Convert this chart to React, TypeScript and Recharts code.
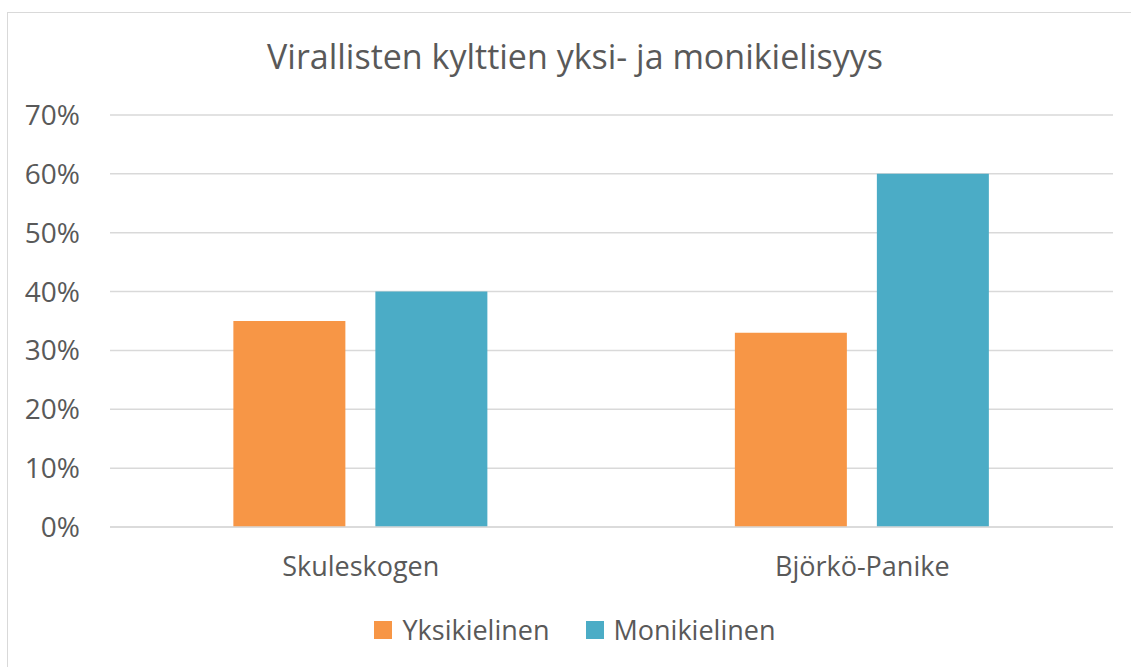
import { BarChart, Bar, XAxis, YAxis, CartesianGrid } from "recharts";

const categories = ["Skuleskogen", "Björkö-Panike"];
const yksikielinen = [35, 33];
const monikielinen = [40, 60];
const yTicks = [0, 10, 20, 30, 40, 50, 60, 70];

const series = [
  { key: "yksikielinen", name: "Yksikielinen", color: "#F79646" },
  { key: "monikielinen", name: "Monikielinen", color: "#4BACC6" },
];

const data = categories.map((name, i) => ({
  name,
  yksikielinen: yksikielinen[i],
  monikielinen: monikielinen[i],
}));

const FONT = "'Open Sans', sans-serif";
const TEXT = "#595959";

export default function App() {
  return (
    <div
      style={{
        position: "absolute",
        left: 0,
        top: 0,
        width: 1131,
        height: 667,
        overflow: "hidden",
        background: "#fff",
        fontFamily: FONT,
      }}
    >
      <div
        style={{
          position: "absolute",
          left: 7,
          top: 12,
          width: 1136,
          height: 700,
          border: "1.5px solid #d9d9d9",
          boxSizing: "border-box",
        }}
      />
      <div
        style={{
          position: "absolute",
          left: 7,
          width: 1136,
          top: 39,
          fontSize: 34,
          lineHeight: "34px",
          textAlign: "center",
          color: TEXT,
        }}
      >
        Virallisten kylttien yksi- ja monikielisyys
      </div>
      <div style={{ position: "absolute", left: 0, top: 0 }}>
        <BarChart
          width={1131}
          height={667}
          data={data}
          margin={{ top: 115, right: 18, bottom: 0, left: 20 }}
          barGap={30}
          barCategoryGap="24.6%"
        >
          <CartesianGrid vertical={false} stroke="#d9d9d9" strokeWidth={1.5} />
          <XAxis
            dataKey="name"
            axisLine={{ stroke: "#d9d9d9", strokeWidth: 1.5 }}
            tickLine={false}
            tickSize={0}
            tickMargin={30}
            height={140}
            tick={{ fill: TEXT, fontSize: 27, fontFamily: FONT }}
          />
          <YAxis
            width={90}
            domain={[0, 70]}
            ticks={yTicks}
            axisLine={false}
            tickLine={false}
            tickSize={0}
            tickMargin={30}
            tickFormatter={(v) => `${v}%`}
            tick={{ fill: TEXT, fontSize: 28, fontFamily: FONT }}
          />
          {series.map((s) => (
            <Bar
              key={s.key}
              dataKey={s.key}
              name={s.name}
              fill={s.color}
              isAnimationActive={false}
            />
          ))}
        </BarChart>
      </div>
      <div
        style={{
          position: "absolute",
          left: 7,
          width: 1136,
          top: 613,
          display: "flex",
          justifyContent: "center",
          gap: 36,
          fontSize: 27,
          lineHeight: "34px",
          color: TEXT,
        }}
      >
        {series.map((s) => (
          <div key={s.key} style={{ display: "flex", alignItems: "center" }}>
            <span
              style={{
                display: "inline-block",
                width: 18,
                height: 18,
                background: s.color,
                marginRight: 10,
              }}
            />
            {s.name}
          </div>
        ))}
      </div>
    </div>
  );
}
